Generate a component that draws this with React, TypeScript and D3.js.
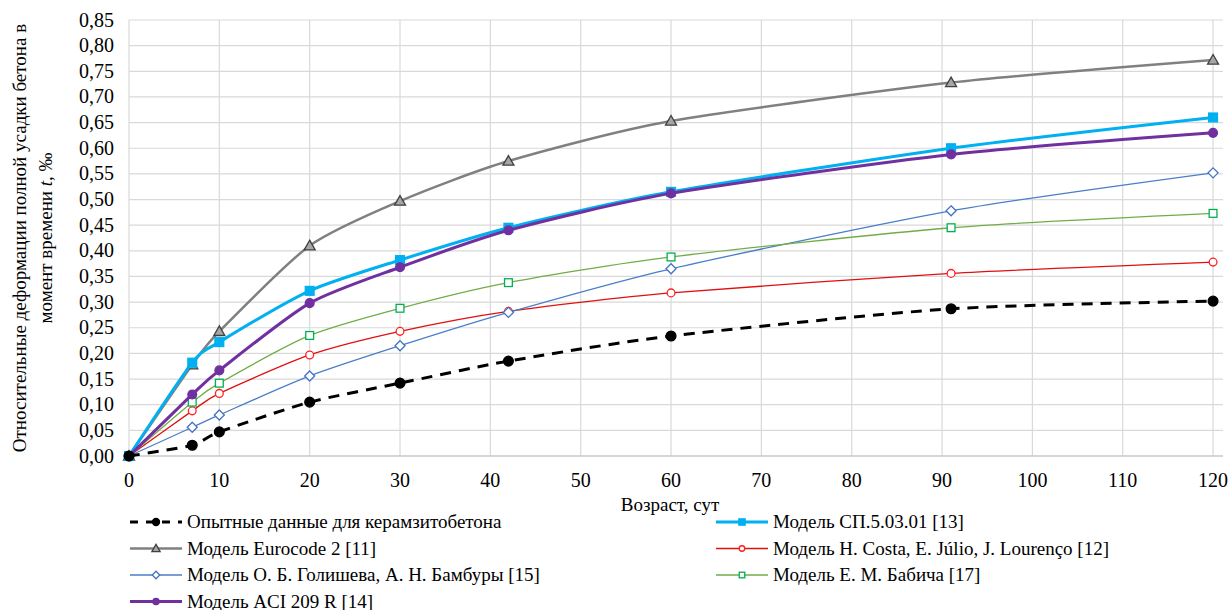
import React from 'react'
import * as d3 from 'd3'

// возраст, сут
const days = [0, 7, 10, 20, 30, 42, 60, 91, 120]

const experiment = [0, 0.021, 0.047, 0.105, 0.142, 0.185, 0.234, 0.287, 0.302]
const eurocode = [0, 0.178, 0.243, 0.41, 0.497, 0.575, 0.653, 0.728, 0.772]
const sp50301 = [0, 0.182, 0.222, 0.322, 0.382, 0.445, 0.515, 0.6, 0.66]
const aci209 = [0, 0.12, 0.167, 0.298, 0.368, 0.44, 0.512, 0.588, 0.63]
const golishev = [0, 0.056, 0.08, 0.156, 0.215, 0.28, 0.365, 0.478, 0.552]
const babich = [0, 0.105, 0.142, 0.235, 0.288, 0.338, 0.388, 0.445, 0.473]
const costa = [0, 0.088, 0.122, 0.197, 0.243, 0.282, 0.318, 0.356, 0.378]

const xTicks = d3.range(0, 121, 10)
const yTicks = d3.range(0, 0.851, 0.05)

type Marker = 'circle' | 'square' | 'triangle' | 'diamond'
interface Series {
  name: string
  values: number[]
  color: string
  width: number
  dash?: string
  marker: Marker
  mFill: string
  mStroke: string
  mSize: number
}

const series: Series[] = [
  { name: 'Модель Eurocode 2 [11]', values: eurocode, color: '#808080', width: 2.5, marker: 'triangle', mFill: '#a6a6a6', mStroke: '#404040', mSize: 11 },
  { name: 'Модель H. Costa, E. Júlio, J. Lourenço [12]', values: costa, color: '#e01010', width: 1.3, marker: 'circle', mFill: '#fff', mStroke: '#ff2020', mSize: 9 },
  { name: 'Модель О. Б. Голишева, А. Н. Бамбуры [15]', values: golishev, color: '#4a7fc8', width: 1.3, marker: 'diamond', mFill: '#fff', mStroke: '#4472c4', mSize: 10 },
  { name: 'Модель Е. М. Бабича [17]', values: babich, color: '#70ad47', width: 1.3, marker: 'square', mFill: '#fff', mStroke: '#00b050', mSize: 9 },
  { name: 'Модель СП.5.03.01 [13]', values: sp50301, color: '#00b0f0', width: 3, marker: 'square', mFill: '#00b0f0', mStroke: '#00b0f0', mSize: 10 },
  { name: 'Модель ACI 209 R [14]', values: aci209, color: '#7030a0', width: 3, marker: 'circle', mFill: '#7030a0', mStroke: '#7030a0', mSize: 10 },
  { name: 'Опытные данные для керамзитобетона', values: experiment, color: '#000', width: 3, dash: '11,8', marker: 'circle', mFill: '#000', mStroke: '#000', mSize: 11 },
]

const W = 1231
const H = 610
const m = { left: 129, top: 20, right: 8, bottom: 154 }

const x = d3.scaleLinear().domain([0, 121.1]).range([m.left, W - m.right])
const y = d3.scaleLinear().domain([0, 0.85]).range([H - m.bottom, m.top])

const line = d3.line<number>()
  .x((_, i) => x(days[i]))
  .y(d => y(d))
  .curve(d3.curveCardinal.tension(0.3))

const FAM = 'Liberation Serif'

function Mark({ kind, cx, cy, s, fill, stroke }: { kind: Marker; cx: number; cy: number; s: number; fill: string; stroke: string }) {
  const r = s / 2
  if (kind === 'circle') return <circle cx={cx} cy={cy} r={r - 0.6} fill={fill} stroke={stroke} strokeWidth={1.3} />
  if (kind === 'square') return <rect x={cx - r + 0.6} y={cy - r + 0.6} width={s - 1.2} height={s - 1.2} fill={fill} stroke={stroke} strokeWidth={1.3} />
  if (kind === 'diamond') {
    return <path d={`M${cx},${cy - r}L${cx + r},${cy}L${cx},${cy + r}L${cx - r},${cy}Z`} fill={fill} stroke={stroke} strokeWidth={1.3} />
  }
  return <path d={`M${cx},${cy - r}L${cx + r},${cy + r * 0.75}L${cx - r},${cy + r * 0.75}Z`} fill={fill} stroke={stroke} strokeWidth={1.3} />
}

// порядок и положение подписей легенды
const legendLeft = [6, 0, 2, 5]
const legendRight = [4, 1, 3]

const App = () => {
  const fmt = (v: number) => v.toFixed(2).replace('.', ',')
  const legendRow = (idx: number, lx: number, ly: number) => {
    const s = series[idx]
    return (
      <g key={s.name}>
        <line x1={lx} x2={lx + 52} y1={ly} y2={ly} stroke={s.color} strokeWidth={s.width} strokeDasharray={s.dash ? '8,8' : undefined} />
        <Mark kind={s.marker} cx={lx + 26} cy={ly} s={s.mSize * 0.75} fill={s.mFill} stroke={s.mStroke} />
        <text x={lx + 57} y={ly + 6} fontSize={19} fontFamily={FAM}>{s.name}</text>
      </g>
    )
  }
  return (
    <svg width={W} height={H} style={{ position: 'absolute', left: 0, top: 0, background: '#fff' }}>
      <style>{`text, tspan { font-family: 'Liberation Serif', 'Times New Roman', serif !important; }`}</style>
      <g>
        {yTicks.map(t => (
          <line key={'gy' + t} x1={m.left} x2={W - m.right} y1={y(t)} y2={y(t)} stroke="#d9d9d9" strokeWidth={1.2} />
        ))}
        {xTicks.map(t => (
          <line key={'gx' + t} x1={x(t)} x2={x(t)} y1={m.top} y2={y(0)} stroke="#d9d9d9" strokeWidth={1.2} />
        ))}
        <line x1={m.left} x2={W - m.right} y1={y(0)} y2={y(0)} stroke="#bfbfbf" strokeWidth={1.2} />
      </g>
      <g fontSize={20} fill="#000">
        {yTicks.map(t => (
          <text key={'ty' + t} x={m.left - 15} y={y(t) + 6.5} textAnchor="end" fontFamily={FAM}>{fmt(t)}</text>
        ))}
        {xTicks.map(t => (
          <text key={'tx' + t} x={x(t)} y={y(0) + 31} textAnchor="middle" fontFamily={FAM}>{t}</text>
        ))}
      </g>
      {series.map(s => (
        <g key={s.name}>
          <path d={line(s.values) ?? ''} fill="none" stroke={s.color} strokeWidth={s.width} strokeDasharray={s.dash} />
          {s.values.map((v, i) => (
            <Mark key={i} kind={s.marker} cx={x(days[i])} cy={y(v)} s={s.mSize} fill={s.mFill} stroke={s.mStroke} />
          ))}
        </g>
      ))}
      <text x={670} y={511} fontSize={19} textAnchor="middle" fontFamily={FAM}>Возраст, сут</text>
      <g transform={`translate(0,${(m.top + y(0)) / 2}) rotate(-90)`} fontSize={19} textAnchor="middle">
        <text x={0} y={26} fontFamily={FAM}>Относительные деформации полной усадки бетона в</text>
        <text x={0} y={52} fontFamily={FAM}>момент времени <tspan fontStyle="italic">t</tspan>, ‰</text>
      </g>
      {legendLeft.map((idx, k) => legendRow(idx, 130, 522 + k * 26.5))}
      {legendRight.map((idx, k) => legendRow(idx, 716, 522 + k * 26.5))}
    </svg>
  )
}

export default App
